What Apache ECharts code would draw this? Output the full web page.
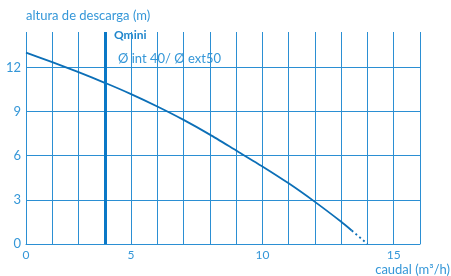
<!DOCTYPE html>
<html>
<head>
<meta charset="utf-8">
<script src="https://cdn.jsdelivr.net/npm/echarts@6/dist/echarts.min.js"></script>
<style>html,body{margin:0;padding:0;background:#fff}#c{width:451px;height:276px}</style>
</head>
<body>
<div id="c"></div>
<script>
// x positions are in grid-column units (the reference's gridlines are evenly spaced; labels are placed on specific lines)
const xTickLabels = ['0','','','','5','','','','','10','','','','','15',''];
const yTicks = [0, 3, 6, 9, 12];
const curveSolid = [[0,13.0],[1,12.35],[2,11.67],[3,10.95],[4,10.18],[5,9.34],[6,8.43],[7,7.43],[8,6.35],[9,5.27],[10,4.12],[11,2.86],[12,1.51],[12.4,0.92]];
const curveDotted = [[12.4,0.92],[13,0]];
const qminiX = 3;

const gridColor = '#2b8fd3';
const textColor = '#3597d8';
const curveColor = '#0c6fb7';
const font = 'Lato, "Open Sans", sans-serif';

const chart = echarts.init(document.getElementById('c'));
chart.setOption({
  animation: false,
  grid: {left: 26, right: 31, top: 32, bottom: 32, containLabel: false},
  xAxis: {
    type: 'value', min: 0, max: 15, interval: 1,
    axisLine: {show: true, lineStyle: {color: gridColor, width: 1}},
    axisTick: {show: false},
    splitLine: {show: true, lineStyle: {color: gridColor, width: 1}},
    axisLabel: {color: textColor, fontSize: 12, fontFamily: font, margin: 5,
      formatter: v => xTickLabels[Math.round(v)] || ''}
  },
  yAxis: {
    type: 'value', min: 0, max: 14.4, interval: 3,
    axisLine: {show: false}, axisTick: {show: false},
    splitLine: {show: true, showMaxLine: false, lineStyle: {color: gridColor, width: 1}},
    axisLabel: {color: textColor, fontSize: 13, fontFamily: font, margin: 5, showMaxLabel: false,
      formatter: v => yTicks.includes(v) ? String(v) : ''}
  },
  series: [
    {type: 'line', data: curveSolid, smooth: 0.2, symbol: 'none',
      lineStyle: {color: curveColor, width: 1.8},
      markLine: {silent: true, symbol: 'none', label: {show: false},
        lineStyle: {color: '#0a78c6', width: 3, type: 'solid'},
        data: [{xAxis: qminiX}]}},
    {type: 'line', data: curveDotted, symbol: 'none',
      lineStyle: {color: curveColor, width: 1.8, type: [2, 3]}}
  ],
  graphic: [
    {type: 'text', left: 26, top: 9, style: {text: 'altura de descarga (m)', fill: textColor, font: '13px ' + font}},
    {type: 'text', left: 114, top: 29, style: {text: 'Qmini', fill: '#1f86cc', font: 'bold 12px ' + font}},
    {type: 'text', left: 118, top: 52, style: {text: 'Ø int 40/ Ø ext50', fill: textColor, font: '13px ' + font}},
    {type: 'text', right: 1, top: 263, style: {text: 'caudal (m³/h)', fill: textColor, font: '13px ' + font}}
  ]
});
</script>
</body>
</html>
